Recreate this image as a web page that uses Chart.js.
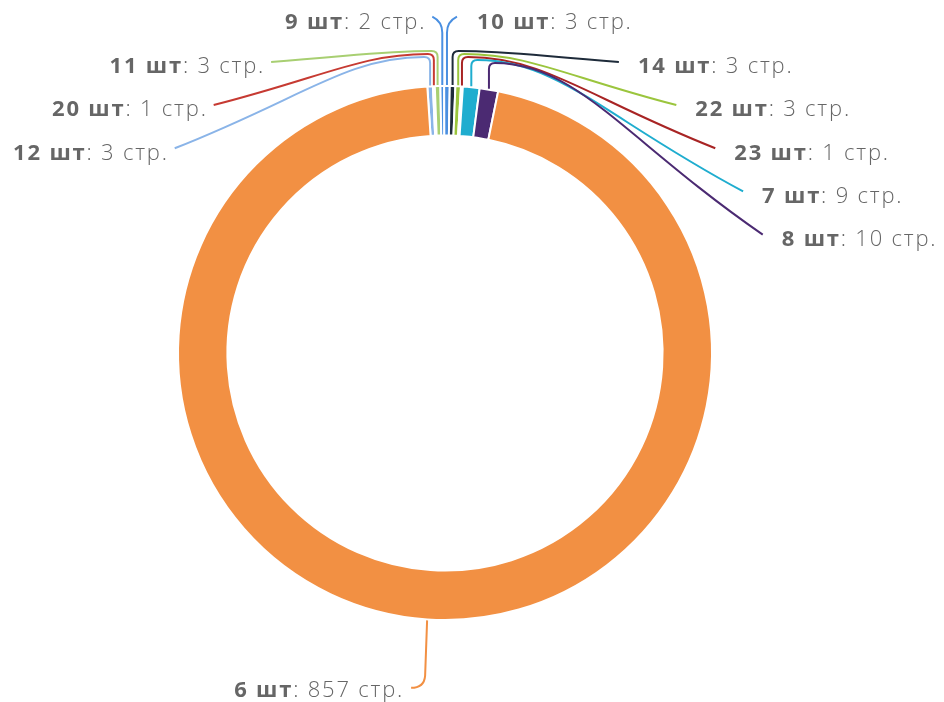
<!DOCTYPE html>
<html>
<head>
<meta charset="utf-8">
<script src="https://cdn.jsdelivr.net/npm/chart.js@4.4.0/dist/chart.umd.min.js"></script>
<style>
  html, body { margin: 0; padding: 0; background: #fff; }
  #wrap { width: 944px; height: 702px; }
</style>
</head>
<body>
<div id="wrap"><canvas id="chart"></canvas></div>
<script>
// данные, по часовой стрелке от верхней точки
const categories = ['12 шт', '20 шт', '11 шт', '9 шт', '10 шт', '14 шт', '22 шт', '23 шт', '7 шт', '8 шт', '6 шт'];
const pages = [3, 1, 3, 2, 3, 3, 3, 1, 9, 10, 857];
const sliceColors = ['#8ab4e8', '#c63a32', '#a8cf72', '#4a90e2', '#4a8fe0', '#1e2b3a', '#9bc53d', '#a82424', '#1fadcf', '#4b2a72', '#f29043'];
const unit = 'стр.';

// где стоит подпись: сторона + номер строки
const placement = [['L', 3], ['L', 2], ['L', 1], ['TL', 0], ['TR', 0], ['R', 1], ['R', 2], ['R', 3], ['R', 4], ['R', 5], ['B', 0]];

const FONT = '"Open Sans", "Noto Sans", sans-serif';
const TEXT_COLOR = '#666666';

function drawLabel(ctx, bold, rest, x, y, align) {
    ctx.letterSpacing = '1.8px';
    ctx.font = 'bold 22px ' + FONT;
    const wb = ctx.measureText(bold).width;
    ctx.font = '300 22px ' + FONT;
    const wr = ctx.measureText(rest).width;
    let sx = align === 'right' ? x - wb - wr : x;
    ctx.fillStyle = TEXT_COLOR;
    ctx.textAlign = 'left';
    ctx.textBaseline = 'middle';
    ctx.font = 'bold 22px ' + FONT;
    ctx.fillText(bold, sx, y);
    ctx.font = '300 22px ' + FONT;
    ctx.fillText(rest, sx + wb, y);
    ctx.letterSpacing = '0px';
}

const outsideLabels = {
    id: 'outsideLabels',
    afterDatasetsDraw(chart) {
        const ctx = chart.ctx;
        const meta = chart.getDatasetMeta(0);
        const first = meta.data[0].getProps(['x', 'y', 'outerRadius'], true);
        const cx = first.x, cy = first.y, R = first.outerRadius;
        const ringTop = cy - R;
        const lineR = R * 1.27;
        const rowStep = R * 0.1617;
        const topY = cy - R * 1.252;

        ctx.save();
        ctx.lineWidth = 2;
        meta.data.forEach((arc, i) => {
            const p = arc.getProps(['startAngle', 'endAngle', 'outerRadius'], true);
            const mid = (p.startAngle + p.endAngle) / 2;
            const px = cx + Math.cos(mid) * p.outerRadius;
            const py = cy + Math.sin(mid) * p.outerRadius;
            const [side, row] = placement[i];
            const bold = categories[i];
            const rest = ': ' + pages[i] + ' ' + unit;
            ctx.strokeStyle = sliceColors[i];
            ctx.beginPath();
            if (side === 'L' || side === 'R') {
                const dir = side === 'L' ? -1 : 1;
                const ly = topY + rowStep * row;
                const dy = ly - cy;
                const lx = cx + dir * Math.sqrt(lineR * lineR - dy * dy);
                const ey = ringTop - 35 + 3 * (row - 1);
                const cr = 6;
                const dx = Math.abs(lx - px);
                ctx.moveTo(px, py - 1);
                ctx.lineTo(px, ey + cr);
                ctx.quadraticCurveTo(px, ey, px + dir * cr, ey);
                ctx.bezierCurveTo(px + dir * (cr + 0.3 * dx), ey,
                    px + dir * 0.5 * dx, ey + 0.45 * (ly - ey),
                    lx, ly);
                ctx.stroke();
                if (side === 'L') drawLabel(ctx, bold, rest, lx - 6, ly + 5, 'right');
                else drawLabel(ctx, bold, rest, lx + 19, ly + 5, 'left');
            } else if (side === 'TL' || side === 'TR') {
                const dir = side === 'TL' ? -1 : 1;
                const ly = topY;
                ctx.moveTo(px, py - 1);
                ctx.lineTo(px, ly + 14);
                ctx.quadraticCurveTo(px, ly + 3, px + dir * 10, ly - 2);
                ctx.stroke();
                if (side === 'TL') drawLabel(ctx, bold, rest, px - 16, ly + 4, 'right');
                else drawLabel(ctx, bold, rest, px + 30, ly + 4, 'left');
            } else {
                const yb = cy + R * 1.254;
                ctx.moveTo(px, py + 1);
                ctx.lineTo(px - 2, yb - 12);
                ctx.quadraticCurveTo(px - 3, yb, px - 16, yb);
                ctx.stroke();
                drawLabel(ctx, bold, rest, px - 23, yb + 3, 'right');
            }
        });
        ctx.restore();
    }
};

new Chart(document.getElementById('chart'), {
    type: 'doughnut',
    data: {
        labels: categories,
        datasets: [{
            data: pages,
            backgroundColor: sliceColors,
            borderColor: '#ffffff',
            borderWidth: 2
        }]
    },
    options: {
        responsive: true,
        maintainAspectRatio: false,
        animation: false,
        rotation: -3.8,
        cutout: '81.5%',
        layout: { padding: { left: 177, right: 231, top: 85, bottom: 81 } },
        plugins: { legend: { display: false }, tooltip: { enabled: false } }
    },
    plugins: [outsideLabels]
});
</script>
</body>
</html>
